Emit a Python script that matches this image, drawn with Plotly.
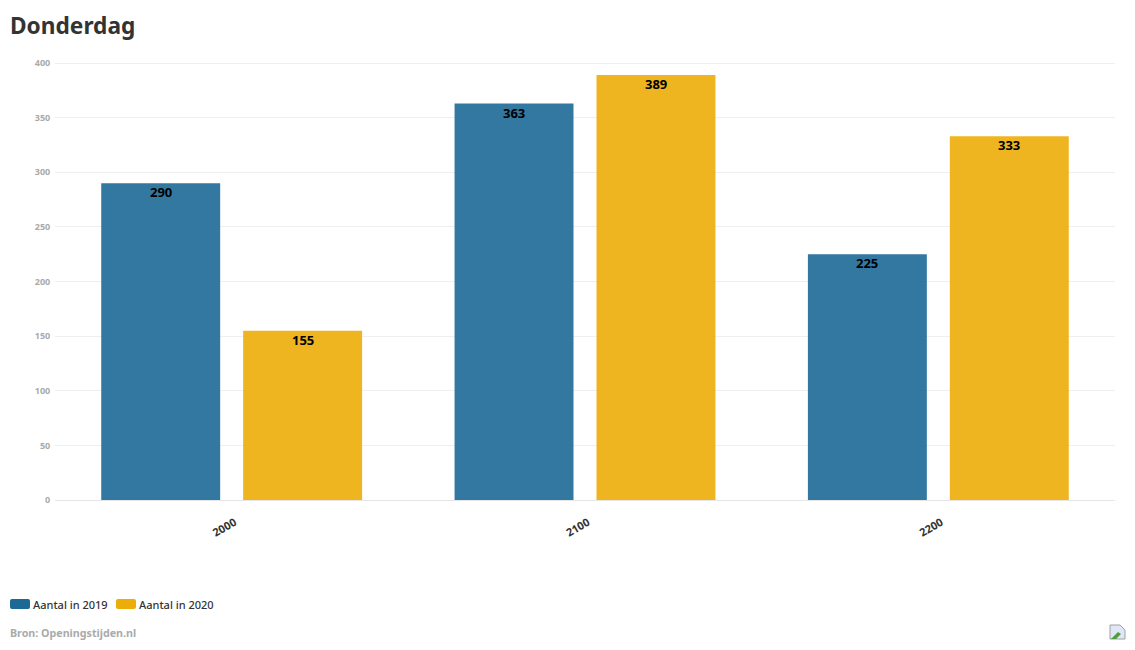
import plotly.graph_objects as go

HOURS = ["2000", "2100", "2200"]
AANTAL_2019 = [290, 363, 225]
AANTAL_2020 = [155, 389, 333]
Y_TICKS = [0, 50, 100, 150, 200, 250, 300, 350, 400]

BLUE = "#1D6996"
YELLOW = "#EDAD08"
FONT = "Noto Sans"

# the page body has an 8px margin, so the figure is 16px smaller than the window
W, H = 1119, 634
PLOT_LEFT, PLOT_RIGHT, PLOT_TOP, PLOT_BOTTOM = 55, 1115, 62, 500
LABEL_OFFSET = 71  # px from group centre to bar centre


def px(x):
    return (x - PLOT_LEFT) / (PLOT_RIGHT - PLOT_LEFT)


def py(y):
    return (PLOT_BOTTOM - y) / (PLOT_BOTTOM - PLOT_TOP)


def swatch_path(x0, y0, x1, y1, r=2):
    return (
        f"M {px(x0 + r)} {py(y0)} L {px(x1 - r)} {py(y0)} Q {px(x1)} {py(y0)} {px(x1)} {py(y0 + r)} "
        f"L {px(x1)} {py(y1 - r)} Q {px(x1)} {py(y1)} {px(x1 - r)} {py(y1)} "
        f"L {px(x0 + r)} {py(y1)} Q {px(x0)} {py(y1)} {px(x0)} {py(y1 - r)} "
        f"L {px(x0)} {py(y0 + r)} Q {px(x0)} {py(y0)} {px(x0 + r)} {py(y0)} Z"
    )


def bar_trace(name, values, color):
    return go.Bar(
        name=name,
        x=HOURS,
        y=values,
        marker=dict(color=color, opacity=0.9, line=dict(width=0)),
    )


fig = go.Figure()
fig.add_trace(bar_trace("Aantal in 2019", AANTAL_2019, BLUE))
fig.add_trace(bar_trace("Aantal in 2020", AANTAL_2020, YELLOW))

# bar labels as annotations, plotly's inside text sits a few px too low
# numeric-looking categories get read as positions here, so x is the index
for values, shift in [(AANTAL_2019, -LABEL_OFFSET), (AANTAL_2020, LABEL_OFFSET)]:
    for i, value in enumerate(values):
        fig.add_annotation(
            text=str(value), x=i, y=value, xref="x", yref="y",
            xshift=shift, yshift=-9, yanchor="middle", showarrow=False, borderpad=0,
            font=dict(family=FONT, size=13, color="#000000", weight="bold"),
        )

# legend is drawn by hand, plotly's bar swatches can't be made this wide
for x0, color in [(10, BLUE), (116, YELLOW)]:
    fig.add_shape(
        type="path", xref="paper", yref="paper",
        path=swatch_path(x0, 599, x0 + 20, 609),
        fillcolor=color, line=dict(width=0),
    )

notes = [
    ("Donderdag", 10, 25, 22.7, "#333333", "bold"),
    ("Aantal in 2019", 33, 604, 11, "#333333", 500),
    ("Aantal in 2020", 139, 604, 11, "#333333", 500),
    ("Bron: Openingstijden.nl", 10, 633, 10.7, "#aaaaaa", "bold"),
]
for text, x, y, size, color, weight in notes:
    fig.add_annotation(
        text=text, xref="paper", yref="paper", x=px(x), y=py(y),
        xanchor="left", yanchor="middle", showarrow=False, borderpad=0,
        xshift=-1, font=dict(family=FONT, size=size, color=color, weight=weight),
    )

# broken image icon in the corner
fig.add_shape(
    type="path", xref="paper", yref="paper",
    path=(
        f"M {px(1110)} {py(639)} L {px(1110)} {py(625)} L {px(1120)} {py(625)} "
        f"L {px(1125)} {py(630)} L {px(1125)} {py(639)} Z"
    ),
    fillcolor="#dfe6f5", line=dict(color="#a0a0a0", width=1),
)
fig.add_shape(
    type="path", xref="paper", yref="paper",
    path=f"M {px(1111)} {py(639)} L {px(1118)} {py(632)} L {px(1121)} {py(634)} L {px(1116)} {py(639)} Z",
    fillcolor="#4f9e3a", line=dict(width=0),
)

fig.update_layout(
    width=W,
    height=H,
    barmode="group",
    bargap=0.1966,
    bargroupgap=0.162,
    showlegend=False,
    plot_bgcolor="#ffffff",
    paper_bgcolor="#ffffff",
    font=dict(family=FONT),
    margin=dict(l=47, r=12, t=54, b=142, autoexpand=False),
)
fig.update_xaxes(
    type="category",
    range=[-0.5, 2.5],
    tickangle=-30,
    tickfont=dict(family=FONT, size=11, color="#333333", weight="bold"),
    ticklabelshift=3,
    showgrid=False,
    showline=True,
    linecolor="#e6e6e6",
    linewidth=1,
    ticks="outside",
    ticklen=11,
    tickcolor="rgba(0,0,0,0)",
)
fig.update_yaxes(
    range=[0, 401],
    tickvals=Y_TICKS,
    tickfont=dict(family=FONT, size=9, color="#aaaaaa", weight="bold"),
    gridcolor="#efefef",
    gridwidth=1,
    zeroline=False,
    ticks="outside",
    ticklen=2,
    tickcolor="rgba(0,0,0,0)",
)

fig.write_html("out.html")
